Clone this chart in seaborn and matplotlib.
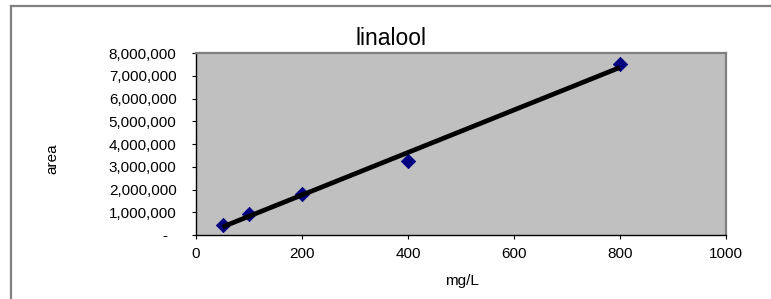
import matplotlib
matplotlib.use("Agg")
import matplotlib.pyplot as plt
from matplotlib.lines import Line2D
from matplotlib.ticker import FuncFormatter
import seaborn as sns
import pandas as pd

# Data
conc_mg_per_L = [50, 100, 200, 400, 800]
peak_area = [440000, 910000, 1790000, 3270000, 7520000]
x_ticks = [0, 200, 400, 600, 800, 1000]
y_ticks = [0, 1000000, 2000000, 3000000, 4000000, 5000000, 6000000, 7000000, 8000000]

title_text = "linalool"
x_label = "mg/L"
y_label = "area"

df = pd.DataFrame({"mg/L": conc_mg_per_L, "area": peak_area})

plt.rcParams["font.family"] = ["Liberation Sans", "DejaVu Sans"]

W, H = 771, 299
fig = plt.figure(figsize=(W / 100, H / 100), dpi=100)
fig.patch.set_facecolor("white")

L, R, T, B = 196, 726, 53, 235
ax = fig.add_axes([L / W, 1 - B / H, (R - L) / W, (B - T) / H])
ax.set_facecolor("#C0C0C0")

sns.regplot(
    data=df, x="mg/L", y="area", ax=ax, ci=None,
    marker="D",
    scatter_kws={"s": 54, "color": "#000080", "edgecolors": "#000080", "linewidths": 0.5,
                 "alpha": 1.0, "zorder": 3},
    line_kws={"color": "black", "linewidth": 3.4, "zorder": 4, "solid_capstyle": "butt"},
)

ax.set_xlim(0, 1000)
ax.set_ylim(0, 8000000)
ax.set_xticks(x_ticks)
ax.set_yticks(y_ticks)
ax.yaxis.set_major_formatter(FuncFormatter(lambda v, p: "-  " if v == 0 else f"{int(v):,}"))
ax.set_xlabel("")
ax.set_ylabel("")
ax.tick_params(axis="both", direction="out", length=3, width=0.8, color="black",
               labelsize=11, labelcolor="black")
ax.tick_params(axis="x", pad=6)
ax.tick_params(axis="y", pad=11)

for side in ("left", "bottom"):
    ax.spines[side].set_color("black")
    ax.spines[side].set_linewidth(1.0)
for side in ("top", "right"):
    ax.spines[side].set_color("#808080")
    ax.spines[side].set_linewidth(1.6)

# titles / labels placed in figure pixel coordinates
fig.text(391 / W, 1 - 45 / H, title_text, ha="center", va="baseline", fontsize=16.5, color="black")
fig.text(462 / W, 1 - 281 / H, x_label, ha="center", va="center", fontsize=11, color="black")
fig.text(52 / W, 1 - 159 / H, y_label, ha="center", va="center", rotation=90, fontsize=11, color="black")

# chart area border (clipped on right and bottom)
fig.add_artist(Line2D([11 / W, 11 / W], [1 - 6 / H, -0.1], transform=fig.transFigure,
                      color="#808080", linewidth=1.6))
fig.add_artist(Line2D([11 / W, 1.1], [1 - 6 / H, 1 - 6 / H], transform=fig.transFigure,
                      color="#808080", linewidth=1.6))

fig.savefig("out.png", dpi=100, facecolor="white")
